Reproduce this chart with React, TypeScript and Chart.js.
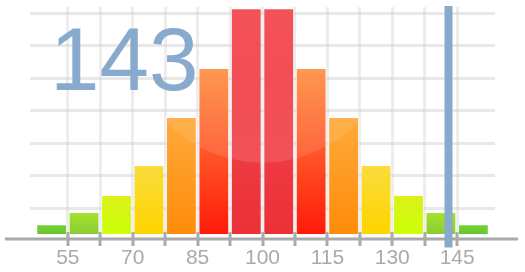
import { useEffect, useRef } from "react";
import { Chart, registerables } from "chart.js";

Chart.register(...registerables);

// ---- data ----
const BIN_CENTERS = [51.25, 58.75, 66.25, 73.75, 81.25, 88.75, 96.25, 103.75, 111.25, 118.75, 126.25, 133.75, 141.25, 148.75];
const BIN_VALUES = [5.0, 8.8, 14.0, 23.3, 38.1, 53.2, 71.6, 71.6, 53.2, 38.1, 23.3, 14.0, 8.8, 5.0];
const BAR_BASE = 2;
const X_TICKS = [55, 62.5, 70, 77.5, 85, 92.5, 100, 107.5, 115, 122.5, 130, 137.5, 145];
const X_LABELS = [55, 70, 85, 100, 115, 130, 145];
const Y_GRID = [10, 20, 30, 40, 50, 60, 70];
const SCORE = 143;

// ---- styles ----
const TOP_COLORS = ["#74d236", "#a4e22c", "#dcf018", "#f9dc3c", "#ffaa3c", "#ff9448", "#f44e56", "#f44e56", "#ff9448", "#ffaa3c", "#f9dc3c", "#dcf018", "#a4e22c", "#74d236"];
const BOTTOM_COLORS = ["#68c82a", "#8ccc34", "#ccff08", "#ffd400", "#ff8c08", "#ff1a08", "#ec3038", "#ec3038", "#ff1a08", "#ff8c08", "#ffd400", "#ccff08", "#8ccc34", "#68c82a"];
const BLUE = "#88aacc";
const AXIS_GRAY = "#aaaaaa";
const FONT = "'Liberation Sans', Arial, Helvetica, sans-serif";

const decorPlugin = {
  id: "decor",
  afterDatasetsDraw(chart: any) {
    const { ctx } = chart;
    const xs = chart.scales.x;
    const ys = chart.scales.y;
    const meta = chart.getDatasetMeta(0);
    ctx.save();
    ctx.beginPath();
    meta.data.forEach((el: any) => {
      const p = el.getProps(["x", "y", "base", "width"], true);
      ctx.rect(p.x - p.width / 2, p.y, p.width, p.base - p.y);
    });
    ctx.clip();
    const cx = xs.getPixelForValue(100);
    const bottom = ys.getPixelForValue(24);
    const rx = xs.getPixelForValue(137) - cx;
    const ry = 200;
    const cy = bottom - ry;
    const g = ctx.createLinearGradient(0, cy, 0, bottom);
    g.addColorStop(0, "rgba(255,255,255,0.0)");
    g.addColorStop(0.6, "rgba(255,255,255,0.05)");
    g.addColorStop(1, "rgba(255,255,255,0.12)");
    ctx.fillStyle = g;
    ctx.beginPath();
    ctx.ellipse(cx, cy, rx, ry, 0, 0, Math.PI * 2);
    ctx.fill();
    ctx.restore();
  },
  afterDraw(chart: any) {
    const { ctx, chartArea } = chart;
    const xs = chart.scales.x;
    ctx.save();
    // axis line
    const axisY = chartArea.bottom - 1.5;
    ctx.strokeStyle = AXIS_GRAY;
    ctx.lineWidth = 3;
    ctx.beginPath();
    ctx.moveTo(chartArea.left - 25, axisY);
    ctx.lineTo(chartArea.right + 23, axisY);
    ctx.stroke();
    // tick marks
    X_TICKS.forEach((t) => {
      const px = Math.round(xs.getPixelForValue(t));
      ctx.beginPath();
      ctx.moveTo(px, chartArea.bottom - 8.5);
      ctx.lineTo(px, chartArea.bottom + 5.5);
      ctx.stroke();
    });
    // score marker
    const mx = xs.getPixelForValue(SCORE);
    ctx.fillStyle = BLUE;
    ctx.fillRect(mx - 4, chartArea.top - 1, 8, chartArea.bottom - chartArea.top + 8);
    // score text
    ctx.font = `89px ${FONT}`;
    ctx.textBaseline = "alphabetic";
    ctx.textAlign = "left";
    ctx.fillText(String(SCORE), 50, 90);
    ctx.restore();
  },
};

export default function App() {
  const ref = useRef<HTMLCanvasElement | null>(null);
  useEffect(() => {
    if (!ref.current) return;
    const chart = new Chart(ref.current, {
      type: "bar",
      data: {
        datasets: [
          {
            data: BIN_CENTERS.map((x, i) => ({ x, y: BIN_VALUES[i] })),
            base: BAR_BASE,
            barPercentage: 0.95,
            categoryPercentage: 1,
            borderWidth: 1,
            borderColor: "rgba(255,255,255,0.45)",
            borderSkipped: "start",
            backgroundColor: (c: any) => {
              const chart = c.chart;
              if (!chart.chartArea || c.type !== "data") return TOP_COLORS[0];
              const ys = chart.scales.y;
              const i = c.dataIndex;
              const top = ys.getPixelForValue(BIN_VALUES[i]);
              const bot = ys.getPixelForValue(BAR_BASE);
              const g = chart.ctx.createLinearGradient(0, top, 0, bot);
              g.addColorStop(0, TOP_COLORS[i]);
              g.addColorStop(1, BOTTOM_COLORS[i]);
              return g;
            },
          } as any,
        ],
      },
      options: {
        responsive: false,
        animation: false,
        devicePixelRatio: 1,
        layout: { padding: { left: 30, right: 30, top: 7, bottom: 0 } },
        plugins: { legend: { display: false }, tooltip: { enabled: false } },
        scales: {
          x: {
            type: "linear",
            min: 46.25,
            max: 153.75,
            offset: false,
            afterBuildTicks: (s: any) => {
              s.ticks = X_TICKS.map((v) => ({ value: v }));
            },
            afterFit: (s: any) => {
              s.height = 31.5;
            },
            grid: { color: "rgba(0,0,0,0.07)", lineWidth: 3, drawTicks: false, offset: false },
            border: { display: false },
            ticks: {
              autoSkip: false,
              maxRotation: 0,
              padding: 5,
              color: AXIS_GRAY,
              font: { family: FONT, size: 21 },
              callback: (v: any) => (X_LABELS.includes(Number(v)) ? String(v) : ""),
            },
          },
          y: {
            type: "linear",
            min: 0,
            max: 72,
            z: 1,
            afterBuildTicks: (s: any) => {
              s.ticks = Y_GRID.map((v) => ({ value: v }));
            },
            afterFit: (s: any) => {
              s.width = 0;
            },
            grid: { color: "rgba(205,205,205,0.45)", lineWidth: 3, drawTicks: false },
            border: { display: false },
            ticks: { display: false },
          },
        },
      },
      plugins: [decorPlugin],
    });
    return () => chart.destroy();
  }, []);
  return (
    <div style={{ position: "absolute", left: 0, top: 0, width: 525, height: 272, background: "#fff" }}>
      <canvas ref={ref} width={525} height={272} style={{ display: "block" }} />
    </div>
  );
}
